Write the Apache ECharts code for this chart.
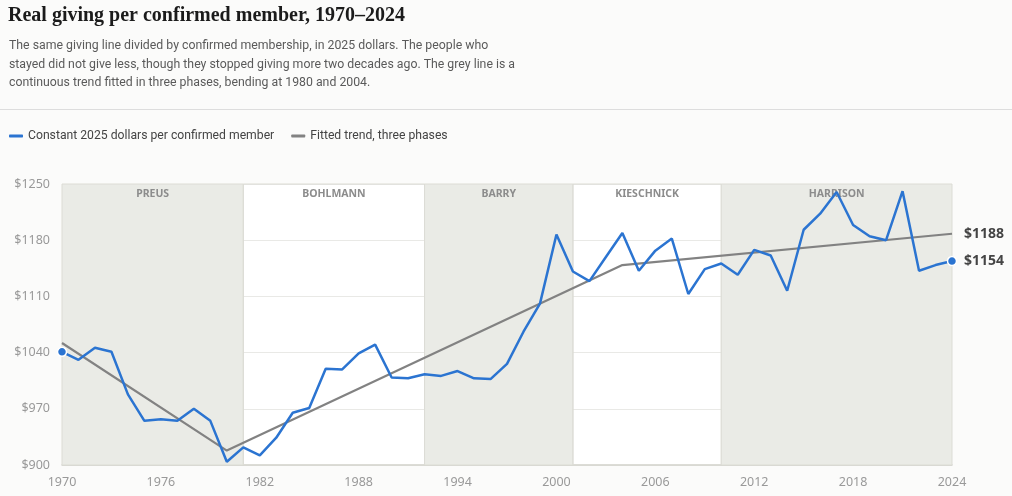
<!DOCTYPE html>
<html>
<head>
<meta charset="utf-8">
<script src="https://cdn.jsdelivr.net/npm/echarts@6/dist/echarts.min.js"></script>
<style>
html,body{margin:0;padding:0;background:#fbfbfa;}
#chart{width:1012px;height:496px;}
</style>
</head>
<body>
<div id="chart"></div>
<script>
const years = [];
for (let y = 1970; y <= 2024; y++) years.push(String(y));

const perMember = [
  1041, 1031, 1046, 1041, 988, 955, 957, 955, 970, 955,
  904, 922, 912, 934, 965, 971, 1020, 1019, 1039, 1050,
  1009, 1008, 1013, 1011, 1017, 1008, 1007, 1026, 1066, 1101,
  1187, 1141, 1129, 1159, 1189, 1142, 1167, 1182, 1113, 1144,
  1151, 1137, 1168, 1161, 1117, 1193, 1213, 1240, 1199, 1185,
  1180, 1241, 1142, 1149, 1154
];

const trendYears = ['1970', '1980', '2004', '2024'];
const trendValues = [1052, 918, 1149, 1188];

const eraNames = ['PREUS', 'BOHLMANN', 'BARRY', 'KIESCHNICK', 'HARRISON'];
const eraStarts = ['1970', '1981', '1992', '2001', '2010'];
const eraEnds = ['1981', '1992', '2001', '2010', '2024'];
const eraShaded = [true, false, true, false, true];

const yTicks = [900, 970, 1040, 1110, 1180, 1250];

const titleText = 'Real giving per confirmed member, 1970–2024';
const subtitleLines = [
  'The same giving line divided by confirmed membership, in 2025 dollars. The people who',
  'stayed did not give less, though they stopped giving more two decades ago. The grey line is a',
  'continuous trend fitted in three phases, bending at 1980 and 2004.'
];
const legendNames = ['Constant 2025 dollars per confirmed member', 'Fitted trend, three phases'];

const BLUE = '#2b74d1';
const GREY = '#828282';
const SANS = 'Roboto,"Noto Sans",sans-serif';
const AXISFONT = '"Noto Sans",Roboto,sans-serif';

const blueData = perMember.map((v, i) => {
  if (i === 0 || i === perMember.length - 1) {
    return { value: v, symbol: 'circle', symbolSize: 9,
      itemStyle: { color: BLUE, borderColor: '#fff', borderWidth: 1.5 } };
  }
  return { value: v, symbol: 'none' };
});

const trendData = trendYears.map((y, i) => [y, trendValues[i]]);

const eraAreas = eraNames.map((name, i) => [
  { name: name, xAxis: eraStarts[i],
    itemStyle: eraShaded[i]
      ? { color: '#eaebe6', borderColor: '#dcdcd5', borderWidth: 1 }
      : { color: 'rgba(255,255,255,0)', borderColor: '#dcdcd5', borderWidth: 1 } },
  { xAxis: eraEnds[i] }
]);

const chart = echarts.init(document.getElementById('chart'), null, { renderer: 'canvas' });
chart.setOption({
  backgroundColor: '#fbfbfa',
  animation: false,
  textStyle: { fontFamily: SANS },
  title: [
    { text: titleText, left: 3, top: 1,
      textStyle: { fontFamily: '"Liberation Serif","DejaVu Serif",serif', fontSize: 20, fontWeight: 'bold', color: '#1b1b1b' } },
    { text: subtitleLines.join('\n'), left: 4, top: 32,
      textStyle: { fontFamily: SANS, fontSize: 12.3, lineHeight: 18.5, fontWeight: 'normal', color: '#5a5a5a' } }
  ],
  graphic: [
    { type: 'line', shape: { x1: 0, y1: 109.5, x2: 1012, y2: 109.5 },
      style: { stroke: '#dddddd', lineWidth: 1 } }
  ],
  legend: {
    left: 4, top: 125,
    icon: 'roundRect', itemWidth: 14, itemHeight: 3, itemGap: 17,
    textStyle: { fontFamily: SANS, fontSize: 12.2, color: '#444' },
    data: [legendNames[0], legendNames[1]]
  },
  grid: { left: 62, right: 60, top: 184, bottom: 31, show: true, backgroundColor: '#ffffff', borderWidth: 0 },
  xAxis: {
    type: 'category', data: years, boundaryGap: false,
    axisLine: { show: true, lineStyle: { color: '#cfcfca', width: 1.5 } },
    axisTick: { show: false },
    axisLabel: { interval: 5, color: '#999', fontSize: 12.5, margin: 11, fontFamily: AXISFONT },
    splitLine: { show: false }
  },
  yAxis: {
    type: 'value', min: 900, max: 1250,
    axisLine: { show: false }, axisTick: { show: false, customValues: yTicks },
    axisLabel: { customValues: yTicks, color: '#999', fontSize: 12.5, margin: 12, fontFamily: AXISFONT,
      formatter: v => '$' + v },
    splitLine: { show: true, lineStyle: { color: '#e9e9e6', width: 1 } }
  },
  series: [
    {
      name: legendNames[1], type: 'line', data: trendData,
      symbol: 'none', color: GREY,
      lineStyle: { color: GREY, width: 2.2 },
      z: 3,
      endLabel: { show: true, distance: 12, fontSize: 14, fontWeight: 'bold', color: '#444', fontFamily: AXISFONT,
        formatter: p => '$' + p.value[1] },
      markArea: {
        silent: true,
        label: { show: true, position: 'insideTop', distance: 5, color: '#8c8c8c', fontSize: 10.5, fontWeight: 'bold', fontFamily: AXISFONT },
        data: eraAreas
      }
    },
    {
      name: legendNames[0], type: 'line', data: blueData,
      symbol: 'none', showSymbol: true, color: BLUE,
      lineStyle: { color: BLUE, width: 2.5 },
      z: 4,
      endLabel: { show: true, distance: 12, fontSize: 14, fontWeight: 'bold', color: '#444', fontFamily: AXISFONT,
        formatter: p => '$' + p.value }
    }
  ]
});
</script>
</body>
</html>
